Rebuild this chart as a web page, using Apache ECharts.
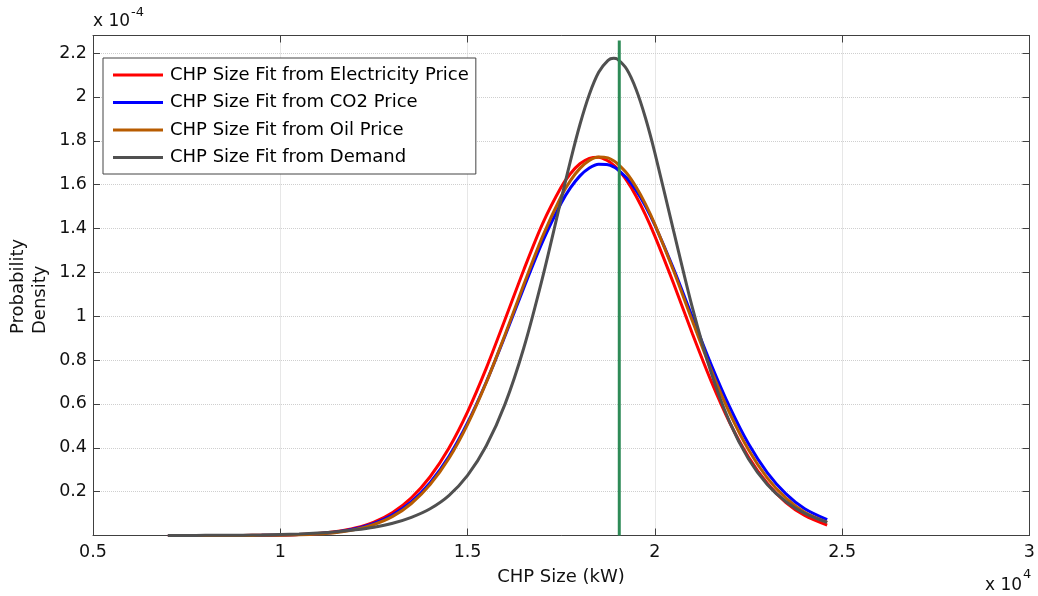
<!DOCTYPE html>
<html>
<head>
<meta charset="utf-8">
<script src="https://cdn.jsdelivr.net/npm/echarts@6/dist/echarts.min.js"></script>
<style>
html,body{margin:0;padding:0;background:#fff;overflow:hidden}
#c{width:1038px;height:596px}
</style>
</head>
<body>
<div id="c"></div>
<script>
// CHP size (x 10^4 kW)
const xValues = [0.7,0.75,0.8,0.85,0.9,0.95,1.0,1.05,1.1,1.15,1.2,1.25,1.3,1.35,1.4,1.45,1.5,1.55,1.6,1.65,1.7,1.75,1.775,1.8,1.825,1.85,1.875,1.89,1.9,1.925,1.95,1.975,2.0,2.05,2.1,2.15,2.2,2.25,2.3,2.35,2.4,2.46];
// probability density (x 10^-4)
const elecPrice = [0.0000,0.0000,0.0001,0.0001,0.0004,0.0009,0.002,0.0044,0.009,0.018,0.034,0.061,0.105,0.172,0.268,0.398,0.564,0.763,0.985,1.211,1.421,1.589,1.651,1.695,1.720,1.725,1.708,1.689,1.673,1.618,1.547,1.462,1.365,1.149,0.921,0.705,0.514,0.358,0.238,0.150,0.091,0.047];
const co2Price = [0.0000,0.0000,0.0001,0.0001,0.0003,0.0008,0.002,0.004,0.008,0.016,0.031,0.055,0.094,0.154,0.241,0.360,0.514,0.700,0.910,1.129,1.339,1.516,1.586,1.640,1.676,1.693,1.691,1.681,1.670,1.630,1.573,1.501,1.415,1.216,0.997,0.781,0.585,0.418,0.287,0.190,0.122,0.072];
const oilPrice = [0.0000,0.0000,0.0000,0.0001,0.0003,0.0006,0.0015,0.0033,0.007,0.014,0.027,0.050,0.087,0.146,0.232,0.351,0.507,0.698,0.915,1.144,1.363,1.547,1.619,1.674,1.710,1.726,1.722,1.709,1.696,1.652,1.589,1.511,1.419,1.207,0.979,0.756,0.557,0.391,0.263,0.170,0.106,0.060];
const demand = [0.0003,0.0004,0.0007,0.001,0.0016,0.0025,0.0045,0.007,0.011,0.017,0.026,0.038,0.056,0.083,0.122,0.182,0.274,0.409,0.599,0.855,1.175,1.534,1.711,1.874,2.011,2.112,2.167,2.176,2.172,2.126,2.034,1.904,1.745,1.389,1.040,0.744,0.516,0.349,0.233,0.154,0.101,0.060];
const seriesNames = ['CHP Size Fit from Electricity Price','CHP Size Fit from CO2 Price','CHP Size Fit from Oil Price','CHP Size Fit from Demand'];
const seriesColors = ['#FF0000','#0000FF','#B85C00','#505050'];
const selectedSize = 1.905;
const selectedLineTop = 2.257;
const xMin = 0.5, xMax = 3, xStep = 0.5;
const yMin = 0, yMax = 2.28, yStep = 0.2;

const FONT = 'DejaVu Sans';
const chart = echarts.init(document.getElementById('c'), null, {renderer:'canvas'});
const allSeries = [elecPrice, co2Price, oilPrice, demand];

const frameColor = '#404040';
const gridLine = {show:true, lineStyle:{color:'#cfcfcf', type:'dotted', width:1}};

function xAxisCfg(pos, labels){
  return {
    type:'value', position:pos, min:xMin, max:xMax, interval:xStep,
    axisLine:{show:true, onZero:false, lineStyle:{color:frameColor, width:1}},
    axisTick:{show:true, inside:true, length:7, lineStyle:{color:frameColor}},
    axisLabel:{show:labels, fontFamily:FONT, fontSize:17.5, color:'#111', margin:8,
      formatter:v => String(Math.round(v*10)/10)},
    splitLine: labels ? gridLine : {show:false}
  };
}
function yAxisCfg(pos, labels){
  return {
    type:'value', position:pos, min:yMin, max:yMax, interval:yStep,
    axisLine:{show:true, onZero:false, lineStyle:{color:frameColor, width:1}},
    axisTick:{show:true, inside:true, length:7, lineStyle:{color:frameColor}},
    axisLabel:{show:labels, fontFamily:FONT, fontSize:17.5, color:'#111', margin:6, showMaxLabel:false,
      formatter:v => {
        if (v < 1e-9) return '';
        if (Math.abs(v/yStep - Math.round(v/yStep)) > 1e-6) return '';
        return String(Math.round(v*10)/10);
      }},
    splitLine: labels ? gridLine : {show:false}
  };
}

const series = allSeries.map((arr, i) => ({
  name: seriesNames[i], type:'line', xAxisIndex:0, yAxisIndex:0,
  data: xValues.map((x, j) => [x, arr[j]]),
  showSymbol:false, symbol:'none', smooth:0.3,
  lineStyle:{color:seriesColors[i], width:3},
  itemStyle:{color:seriesColors[i]},
  z: 2 + i
}));
series.push({
  name:'Selected size', type:'line', xAxisIndex:0, yAxisIndex:0,
  data:[[selectedSize, yMin],[selectedSize, selectedLineTop]],
  showSymbol:false, symbol:'none',
  lineStyle:{color:'#2E8B57', width:3},
  z: 10
});

chart.setOption({
  animation:false,
  backgroundColor:'#fff',
  grid:{left:93, right:8, top:35.5, bottom:60.5, containLabel:false},
  xAxis:[xAxisCfg('bottom', true), xAxisCfg('top', false)],
  yAxis:[yAxisCfg('left', true), yAxisCfg('right', false)],
  legend:{
    data:seriesNames, orient:'vertical', left:103, top:58,
    padding:[7,7,6.5,10], itemGap:7.5, itemWidth:50, itemHeight:3, icon:'rect',
    backgroundColor:'#fff', borderColor:'#444', borderWidth:1,
    selectedMode:false,
    textStyle:{fontFamily:FONT, fontSize:18, color:'#000', lineHeight:20, padding:[0,0,0,2]}
  },
  graphic:[
    {type:'text', x:93, y:21.5, style:{text:'x 10', fontFamily:FONT, fontSize:17, fill:'#111', textAlign:'left', textVerticalAlign:'middle'}},
    {type:'text', x:131, y:13, style:{text:'-4', fontFamily:FONT, fontSize:13, fill:'#111', textAlign:'left', textVerticalAlign:'middle'}},
    {type:'text', x:985, y:585.5, style:{text:'x 10', fontFamily:FONT, fontSize:17, fill:'#111', textAlign:'left', textVerticalAlign:'middle'}},
    {type:'text', x:1023, y:575, style:{text:'4', fontFamily:FONT, fontSize:13, fill:'#111', textAlign:'left', textVerticalAlign:'middle'}},
    {type:'text', x:561, y:577, style:{text:'CHP Size (kW)', fontFamily:FONT, fontSize:18, fill:'#111', textAlign:'center', textVerticalAlign:'middle'}},
    {type:'text', x:18, y:334, rotation:Math.PI/2, style:{text:'Probability', fontFamily:FONT, fontSize:18, fill:'#111', textAlign:'left', textVerticalAlign:'middle'}},
    {type:'text', x:40, y:334, rotation:Math.PI/2, style:{text:'Density', fontFamily:FONT, fontSize:18, fill:'#111', textAlign:'left', textVerticalAlign:'middle'}}
  ],
  series:series
});
</script>
</body>
</html>
